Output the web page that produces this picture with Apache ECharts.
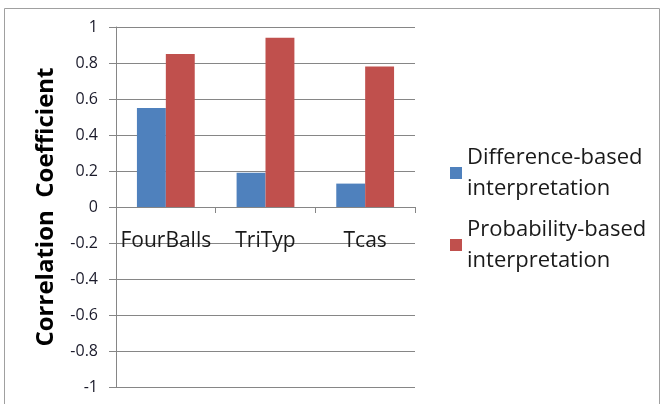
<!DOCTYPE html>
<html>
<head>
<meta charset="utf-8">
<script src="https://cdn.jsdelivr.net/npm/echarts@6/dist/echarts.min.js"></script>
<style>
  html, body { margin: 0; padding: 0; background: #fff; }
  #chart { width: 665px; height: 404px; }
</style>
</head>
<body>
<div id="chart"></div>
<script>
// Benchmark programs on the x axis
const categories = ['FourBalls', 'TriTyp', 'Tcas'];
// Correlation coefficient per interpretation
const differenceBased = [0.55, 0.19, 0.13];
const probabilityBased = [0.85, 0.94, 0.78];
// Value axis ticks
const yTicks = [-1, -0.8, -0.6, -0.4, -0.2, 0, 0.2, 0.4, 0.6, 0.8, 1];

const seriesNames = ['Difference-based interpretation', 'Probability-based interpretation'];
const font = 'Open Sans';

const gridTop = 27;
const gridBottom = 17;
const chartHeight = 404;

const chart = echarts.init(document.getElementById('chart'), null, { renderer: 'canvas' });

// The category axis sits on the zero line: shift it up to where 0 falls
const plotHeight = chartHeight - gridTop - gridBottom;
const zeroOffset = -plotHeight * (0 - yTicks[0]) / (yTicks[yTicks.length - 1] - yTicks[0]);

chart.setOption({
  animation: false,
  backgroundColor: '#fff',
  textStyle: { fontFamily: font },
  graphic: [{
    type: 'rect',
    shape: { x: 4.5, y: 8.5, width: 655, height: 420 },
    style: { fill: 'none', stroke: '#a0a0a0', lineWidth: 1 },
    silent: true
  }],
  grid: { left: 116, right: 250, top: gridTop, bottom: gridBottom, outerBoundsMode: 'none', containLabel: false },
  legend: {
    orient: 'vertical',
    left: 445,
    top: 137,
    itemWidth: 12,
    itemHeight: 12,
    itemGap: 10,
    icon: 'rect',
    data: seriesNames,
    formatter: name => name.replace(' ', '\n'),
    textStyle: { fontFamily: font, fontSize: 22, color: '#1a1a1a', lineHeight: 31 }
  },
  xAxis: {
    type: 'category',
    data: categories,
    position: 'bottom',
    offset: zeroOffset,
    axisLine: { onZero: false, lineStyle: { color: '#868686' } },
    axisTick: { show: true, length: 6, lineStyle: { color: '#868686' } },
    axisLabel: { interval: 0, hideOverlap: false, fontSize: 21, color: '#1a1a1a', margin: 24, fontFamily: font },
    splitLine: { show: false }
  },
  yAxis: {
    type: 'value',
    min: yTicks[0],
    max: yTicks[yTicks.length - 1],
    interval: 0.2,
    name: 'Correlation  Coefficient',
    nameLocation: 'middle',
    nameGap: 58,
    nameTextStyle: { fontSize: 24, fontWeight: 'bold', color: '#000', fontFamily: font },
    axisLine: { show: true, lineStyle: { color: '#868686' } },
    axisTick: { show: true, length: 7, lineStyle: { color: '#868686' } },
    axisLabel: {
      fontSize: 16, color: '#1a1a2a', margin: 18, fontFamily: font,
      formatter: v => {
        const t = yTicks.find(k => Math.abs(k - v) < 1e-9);
        return String(t !== undefined ? t : Math.round(v * 10) / 10);
      }
    },
    splitLine: { lineStyle: { color: '#868686' } }
  },
  series: [
    {
      name: seriesNames[0],
      type: 'bar',
      data: differenceBased,
      barGap: '0%',
      barCategoryGap: '42%',
      itemStyle: { color: '#4F81BD' }
    },
    {
      name: seriesNames[1],
      type: 'bar',
      data: probabilityBased,
      barGap: '0%',
      barCategoryGap: '42%',
      itemStyle: { color: '#C0504D' }
    }
  ]
});
</script>
</body>
</html>
